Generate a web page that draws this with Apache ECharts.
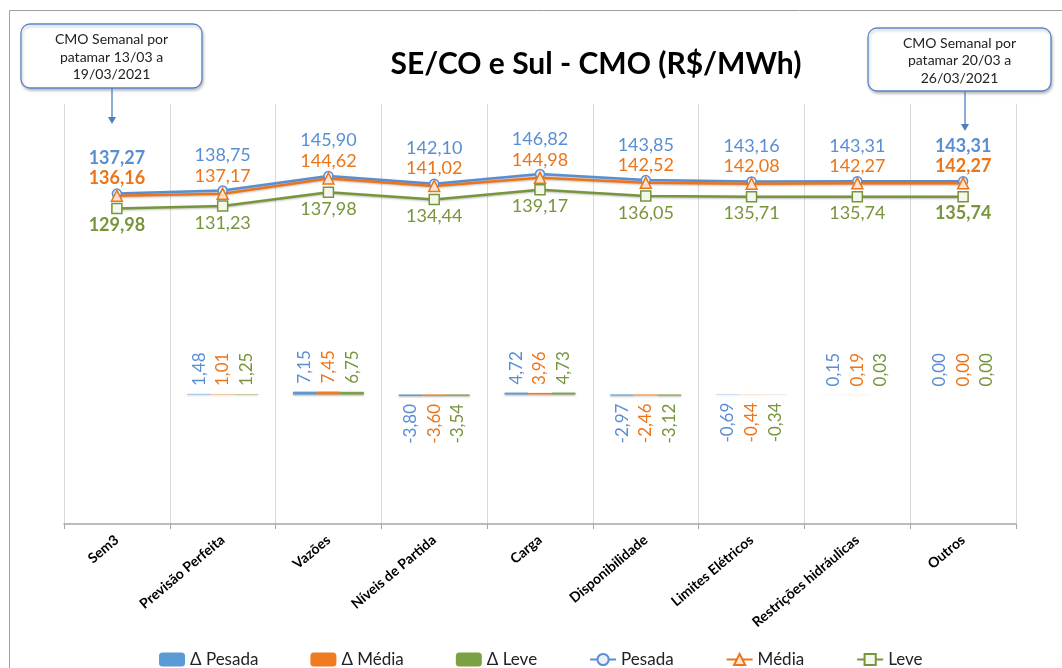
<!DOCTYPE html>
<html>
<head>
<meta charset="utf-8">
<script src="https://cdn.jsdelivr.net/npm/echarts@6/dist/echarts.min.js"></script>
<style>
html,body{margin:0;padding:0;background:#fff;}
#chart{width:1062px;height:668px;}
</style>
</head>
<body>
<div id="chart"></div>
<script>
const categories = ['Sem3','Previsão Perfeita','Vazões','Níveis de Partida','Carga','Disponibilidade','Limites Elétricos','Restrições hidráulicas','Outros'];
const pesada = [137.27,138.75,145.90,142.10,146.82,143.85,143.16,143.31,143.31];
const media  = [136.16,137.17,144.62,141.02,144.98,142.52,142.08,142.27,142.27];
const leve   = [129.98,131.23,137.98,134.44,139.17,136.05,135.71,135.74,135.74];
const deltaPesada = [null,1.48,7.15,-3.80,4.72,-2.97,-0.69,0.15,0.00];
const deltaMedia  = [null,1.01,7.45,-3.60,3.96,-2.46,-0.44,0.19,0.00];
const deltaLeve   = [null,1.25,6.75,-3.54,4.73,-3.12,-0.34,0.03,0.00];
const title = 'SE/CO e Sul - CMO (R$/MWh)';
const callout1 = ['CMO Semanal por','patamar 13/03 a','19/03/2021'];
const callout2 = ['CMO Semanal por','patamar 20/03 a','26/03/2021'];

const FONT = 'Lato';
const C = {
  pesada: '#5A8ED3', media: '#EC7519', leve: '#77953D',
  barP: '#5B9BD5', barM: '#F07C22', barL: '#7AA243'
};
const fmt = v => v == null ? '' : v.toFixed(2).replace('.', ',');
const last = categories.length - 1;

function barData(arr) {
  return arr.map(v => {
    if (v == null) return null;
    const neg = v < 0;
    return {
      value: v,
      label: {
        position: neg ? 'bottom' : 'top',
        align: neg ? 'right' : 'left',
        verticalAlign: 'middle'
      }
    };
  });
}
function lineData(arr) {
  return arr.map((v, i) => ({
    value: v,
    label: { fontWeight: (i === 0 || i === last) ? 'bold' : 'normal' }
  }));
}
function barSeries(name, arr, color, lblColor) {
  return {
    name, type: 'bar', yAxisIndex: 1, data: barData(arr),
    barGap: '0%', barCategoryGap: '33%',
    itemStyle: { color, shadowColor: 'rgba(0,0,0,0.35)', shadowBlur: 2, shadowOffsetY: 1 },
    label: {
      show: true, rotate: 90, distance: 8, color: lblColor,
      fontFamily: FONT, fontSize: 17, formatter: p => fmt(p.value)
    },
    emphasis: { disabled: true }
  };
}
function lineSeries(name, arr, color, symbol, size, pos, dist, fill) {
  return {
    name, type: 'line', yAxisIndex: 0, data: lineData(arr), z: 5,
    symbol, symbolSize: size,
    lineStyle: { color, width: 2.5, shadowColor: 'rgba(0,0,0,0.25)', shadowBlur: 2, shadowOffsetY: 1 },
    itemStyle: { color: fill, borderColor: color, borderWidth: 1.5 },
    label: {
      show: true, position: pos, distance: dist, color,
      fontFamily: FONT, fontSize: 18, formatter: p => fmt(p.value)
    },
    emphasis: { disabled: true }
  };
}

function callout(x, y, w, h, lines, ax, ay1, ay2) {
  return {
    type: 'group',
    children: [
      { type: 'rect', shape: { x, y, width: w, height: h, r: 9 },
        style: { fill: '#fff', stroke: '#5B86C4', lineWidth: 1.3, shadowColor: 'rgba(0,0,0,0.25)', shadowBlur: 3, shadowOffsetX: 1, shadowOffsetY: 2 } },
      { type: 'text', x: x + w / 2, y: y + h / 2 + 1,
        style: { text: lines.join('\n'), fill: '#222', font: '14px ' + FONT, align: 'center', verticalAlign: 'middle', lineHeight: 17.5 } },
      { type: 'line', shape: { x1: ax, y1: ay1, x2: ax, y2: ay2 - 5 }, style: { stroke: '#4F7EC0', lineWidth: 1.3 } },
      { type: 'polygon', shape: { points: [[ax - 4, ay2 - 7], [ax + 4, ay2 - 7], [ax, ay2]] }, style: { fill: '#4F7EC0' } }
    ]
  };
}

const chart = echarts.init(document.getElementById('chart'));
chart.setOption({
  animation: false,
  textStyle: { fontFamily: FONT },
  title: {
    text: title, left: 591, top: 44, textAlign: 'center',
    textStyle: { fontFamily: FONT, fontSize: 30, fontWeight: 'bold', color: '#000' }
  },
  grid: { left: 64, right: 46, top: 104, bottom: 144 },
  legend: {
    left: 154, top: 646, itemGap: 52, itemWidth: 26, itemHeight: 14,
    textStyle: { fontFamily: FONT, fontSize: 17, color: '#222' },
    data: ['Δ Pesada','Δ Média','Δ Leve','Pesada','Média','Leve']
  },
  xAxis: {
    type: 'category', data: categories, boundaryGap: true,
    axisLine: { onZero: false, lineStyle: { color: '#A6A6A6', width: 1.5 } },
    axisTick: { show: true, length: 5, lineStyle: { color: '#A6A6A6' } },
    splitLine: { show: true, lineStyle: { color: '#D9D9D9', width: 1 } },
    axisLabel: { rotate: 40, margin: 14, interval: 0, color: '#000', fontWeight: 'bold', fontSize: 14, fontFamily: FONT }
  },
  yAxis: [
    { type: 'value', min: -24, max: 181, show: false, splitLine: { show: false } },
    { type: 'value', min: -330, max: 740, show: false, splitLine: { show: false } }
  ],
  series: [
    barSeries('Δ Pesada', deltaPesada, C.barP, C.pesada),
    barSeries('Δ Média', deltaMedia, C.barM, C.media),
    barSeries('Δ Leve', deltaLeve, C.barL, C.leve),
    lineSeries('Pesada', pesada, C.pesada, 'circle', 9, 'top', 21, '#EAF1FA'),
    lineSeries('Média', media, C.media, 'triangle', 11, 'top', 2, '#FCE4D0'),
    lineSeries('Leve', leve, C.leve, 'rect', 10, 'bottom', 2, '#F4F8EC')
  ],
  graphic: [
    { type: 'rect', shape: { x: 9.5, y: 10.5, width: 1200, height: 800 }, style: { fill: 'none', stroke: '#A0A0A0', lineWidth: 1 }, z: -10 },
    callout(21, 24, 181, 64, callout1, 112, 88, 124),
    callout(868, 28, 183, 63, callout2, 965, 91, 131)
  ]
});
</script>
</body>
</html>
